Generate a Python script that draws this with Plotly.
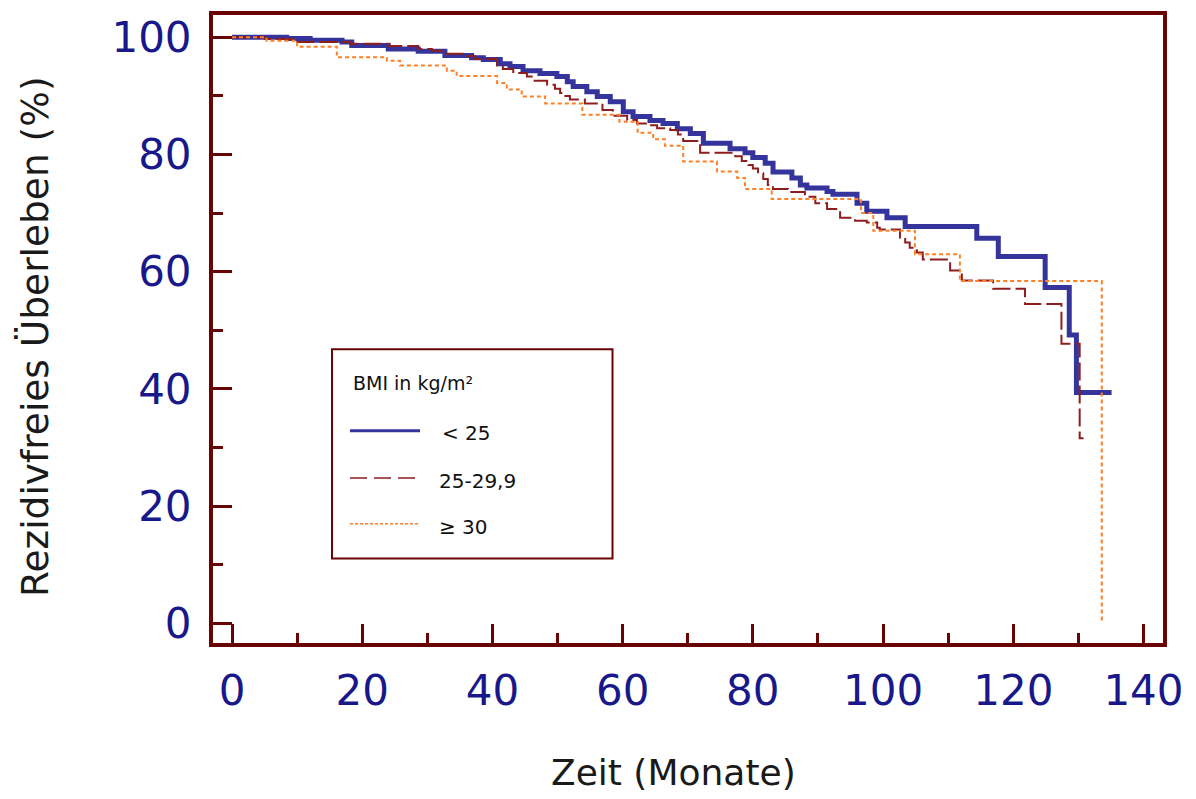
import plotly.graph_objects as go

# ---- data ----
blue_t = [0, 8.4, 12.0, 16.9, 18.4, 24.0, 28.6, 32.7, 36.8, 38.6, 41.2, 42.7, 44.7, 47.3, 49.9,
          51.5, 52.4, 54.5, 56.1, 58.1, 60.1, 61.6, 64.2, 66.2, 68.4, 70.4, 72.4, 76.5, 78.8, 80.0,
          81.9, 83.1, 86.0, 87.3, 88.3, 91.4, 92.3, 96.0, 97.5, 100.6, 103.4, 114.4, 117.7, 124.9,
          128.6, 129.7, 135.1]
blue_s = [100, 99.8, 99.5, 99.2, 98.6, 98.0, 97.6, 96.9, 96.5, 96.2, 95.5, 95.0, 94.3, 93.8, 93.3,
          92.4, 91.6, 90.7, 89.9, 89.0, 87.3, 86.5, 85.8, 85.3, 84.4, 83.6, 81.9, 81.0, 80.3, 79.5,
          78.5, 77.0, 76.0, 74.8, 74.3, 73.7, 73.2, 71.7, 70.3, 69.2, 67.7, 65.7, 62.6, 57.3,
          49.2, 39.4, 39.4]

red_t = [0, 5.1, 10.0, 18.1, 24.0, 28.6, 30.7, 32.7, 35.8, 37.3, 40.7, 41.6, 43.2, 45.3, 46.2,
         48.4, 49.6, 50.4, 51.2, 51.9, 54.2, 56.9, 58.5, 60.7, 62.2, 64.2, 65.3, 67.3, 68.5, 69.3,
         71.9, 77.3, 78.3, 79.3, 80.0, 80.8, 81.6, 82.3, 83.1, 85.4, 88.0, 89.6, 91.4, 93.4, 95.7,
         97.5, 99.1, 99.5, 102.6, 103.4, 104.1, 105.2, 106.1, 110.3, 112.1, 116.9, 121.8, 127.4,
         130.2, 130.8]
red_s = [100, 99.7, 99.2, 98.9, 98.5, 98.0, 97.7, 97.2, 96.8, 96.3, 95.2, 94.6, 93.9, 93.3, 92.6,
         91.9, 91.2, 90.5, 90.0, 89.4, 88.7, 87.6, 86.6, 85.9, 85.3, 85.0, 84.5, 84.2, 83.4, 82.3,
         80.3, 79.7, 78.9, 78.2, 77.6, 76.8, 75.8, 74.8, 74.1, 73.6, 72.8, 71.7, 70.7, 69.2, 68.7,
         68.4, 67.5, 67.2, 65.8, 65.0, 64.1, 63.3, 62.1, 60.2, 58.5, 57.1, 54.5, 47.7,
         31.6, 31.6]

orange_t = [0, 5.3, 10.0, 16.1, 23.8, 25.8, 33.0, 34.5, 40.7, 42.2, 44.5, 48.1, 53.8, 59.5, 62.3,
            64.7, 66.5, 69.3, 74.5, 77.6, 78.8, 82.9, 96.6, 98.5, 104.9, 111.8, 133.6]
orange_s = [100, 99.4, 98.4, 96.6, 96.0, 95.2, 94.3, 93.4, 92.2, 91.1, 89.9, 88.7, 86.8, 85.6, 83.7,
            82.6, 81.5, 78.8, 77.1, 76.0, 74.1, 72.4, 70.0, 67.0, 63.0, 58.4, 0]

group_names = ["< 25", "25-29,9", "\u2265 30"]
legend_title = "BMI in kg/m\u00b2"
x_ticks = [0, 20, 40, 60, 80, 100, 120, 140]
y_ticks = [0, 20, 40, 60, 80, 100]
x_title = "Zeit (Monate)"
y_title = "Rezidivfreies \u00dcberleben (%)"

# ---- styles ----
FRAME = "#680404"
TICKCOL = "#18188a"
BLUE = "#34349c"
RED = "#8e1e1e"
ORANGE = "#ff8026"
FONT = "DejaVu Sans"

W_PX, H_PX = 1196, 799
L, T, PW, PH = 213, 11, 950, 632


def px(x):
    return (x - L) / PW


def py(y):
    return (T + PH - y) / PH


fig = go.Figure()
fig.add_trace(go.Scatter(x=blue_t, y=blue_s, mode="lines", line=dict(color=BLUE, width=5, shape="hv"),
                         name=group_names[0], showlegend=False))
fig.add_trace(go.Scatter(x=red_t, y=red_s, mode="lines",
                         line=dict(color=RED, width=2, shape="hv", dash="18px,5px"),
                         name=group_names[1], showlegend=False))
fig.add_trace(go.Scatter(x=orange_t, y=orange_s, mode="lines",
                         line=dict(color=ORANGE, width=2, shape="hv", dash="4px,3px"),
                         name=group_names[2], showlegend=False))

axis_common = dict(showline=True, linewidth=4, linecolor=FRAME, mirror=True,
                   ticks="inside", ticklen=19, tickwidth=3, tickcolor=FRAME,
                   showgrid=False, zeroline=False,
                   tickfont=dict(family=FONT, size=42, color=TICKCOL),
                   minor=dict(ticks="inside", ticklen=10, tickwidth=3, tickcolor=FRAME,
                              dtick=10, tick0=0, showgrid=False))

fig.update_xaxes(range=[-2.92, 143.0], tickvals=x_ticks, ticktext=[str(v) for v in x_ticks],
                 ticklabelstandoff=8, **axis_common)
fig.update_yaxes(range=[-3.34, 103.8], tickvals=y_ticks, ticktext=[str(v) for v in y_ticks],
                 ticklabelstandoff=9, **axis_common)

shapes = [
    dict(type="rect", xref="paper", yref="paper", x0=px(332), x1=px(612.5), y0=py(558), y1=py(347.5),
         line=dict(color=FRAME, width=2), fillcolor="white", layer="above"),
    dict(type="line", xref="paper", yref="paper", x0=px(350), x1=px(420), y0=py(429.5), y1=py(429.5),
         line=dict(color=BLUE, width=3)),
    dict(type="line", xref="paper", yref="paper", x0=px(350), x1=px(420), y0=py(477), y1=py(477),
         line=dict(color=RED, width=1.5, dash="17px,7px")),
    dict(type="line", xref="paper", yref="paper", x0=px(350), x1=px(420), y0=py(523), y1=py(523),
         line=dict(color=ORANGE, width=1.5, dash="3px,2px")),
]

annotations = [
    dict(text=legend_title, xref="paper", yref="paper", x=px(351), y=py(381), xanchor="left",
         yanchor="middle", showarrow=False, font=dict(family=FONT, size=19, color="#111111")),
    dict(text=group_names[0], xref="paper", yref="paper", x=px(440), y=py(432), xanchor="left",
         yanchor="middle", showarrow=False, font=dict(family=FONT, size=20, color="#111111")),
    dict(text=group_names[1], xref="paper", yref="paper", x=px(437), y=py(480), xanchor="left",
         yanchor="middle", showarrow=False, font=dict(family=FONT, size=20, color="#111111")),
    dict(text=group_names[2], xref="paper", yref="paper", x=px(437), y=py(526), xanchor="left",
         yanchor="middle", showarrow=False, font=dict(family=FONT, size=20, color="#111111")),
    dict(text=x_title, xref="paper", yref="paper", x=px(673), y=py(773), xanchor="center",
         yanchor="middle", showarrow=False, font=dict(family=FONT, size=36, color="#1a1a1a")),
    dict(text=y_title, xref="paper", yref="paper", x=px(35), y=py(335), xanchor="center",
         yanchor="middle", showarrow=False, textangle=-90,
         font=dict(family=FONT, size=37.5, color="#1a1a1a")),
]

fig.update_layout(width=W_PX, height=H_PX, margin=dict(l=L, r=W_PX - L - PW, t=T, b=H_PX - T - PH),
                  paper_bgcolor="white", plot_bgcolor="white", shapes=shapes, annotations=annotations,
                  showlegend=False)

fig.write_html("out.html")
